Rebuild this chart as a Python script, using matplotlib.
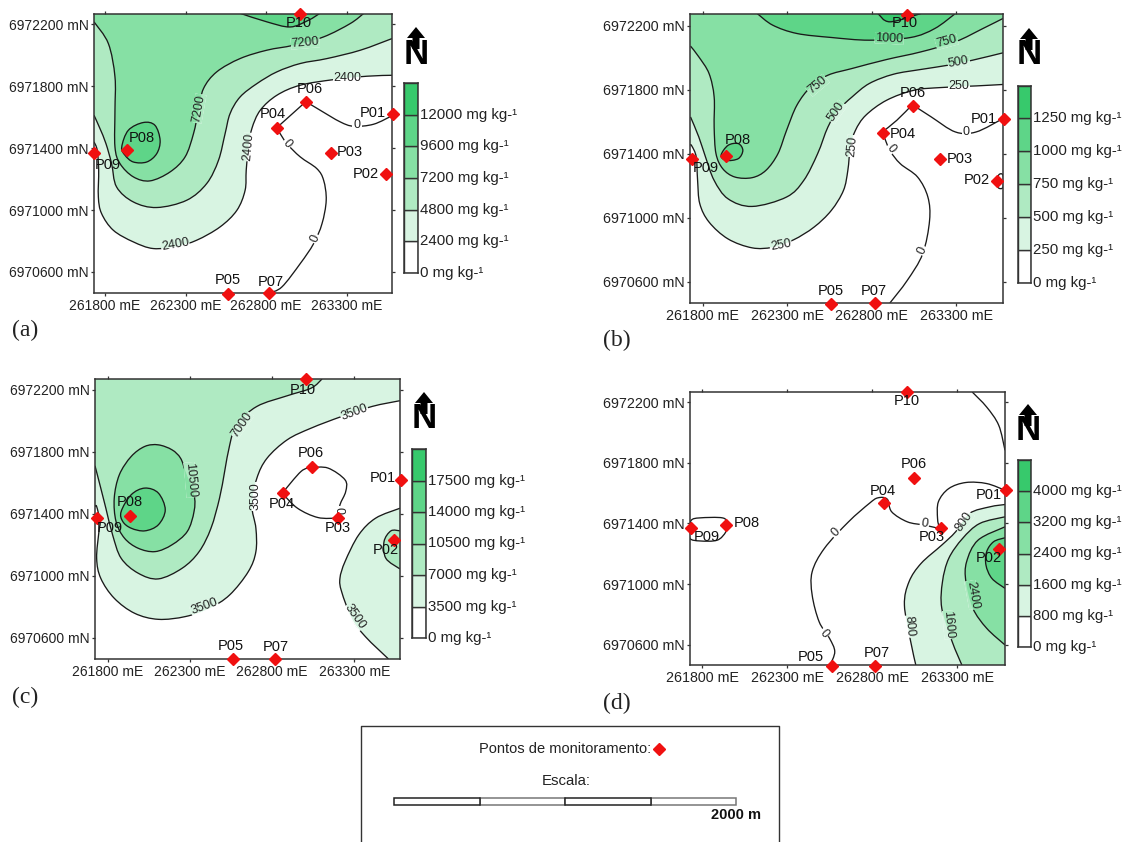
import matplotlib
matplotlib.use("Agg")
import matplotlib.pyplot as plt
import numpy as np
from matplotlib.path import Path
from matplotlib.patches import PathPatch, Polygon, Rectangle
from matplotlib.transforms import IdentityTransform

plt.rcParams['font.family'] = ['Liberation Sans', 'DejaVu Sans']

W, H = 1131, 842
E0, N0 = 261000, 6970000   # all map coordinates below are metres from this origin

BANDS = ['#ffffff', '#d8f4e2', '#afeac2', '#86e0a4', '#5ed588', '#37c96c']
LINE_COLOR = '#1a1a1a'

E_TICKS = [800, 1300, 1800, 2300]
N_TICKS = [600, 1000, 1400, 1800, 2200]

STATIONS = ['P01', 'P02', 'P03', 'P04', 'P05', 'P06', 'P07', 'P08', 'P09', 'P10']
STATION_E = [2586, 2543, 2203, 1866, 1562, 2046, 1818, 939, 734, 2007]
STATION_N = [1618, 1231, 1369, 1532, 460, 1700, 464, 1388, 1369, 2269]

# panel a
A_LEVELS = [0, 2400, 4800, 7200, 9600, 12000]
A_2400 = [(2580,1870),(2425,1864),(2218,1842),(2011,1806),(1866,1741),(1763,1644),(1711,1526),(1690,1407),(1676,1257),(1669,1127),(1618,998),(1514,891),(1369,805),(1245,766),(1100,751),(976,794),(852,869),(779,977),(759,1084),(761,1257),(752,1386),(732,1440)]
A_4800 = [(2580,2107),(2384,2032),(2177,1978),(2011,1946),(1866,1892),(1742,1816),(1638,1730),(1576,1623),(1545,1493),(1504,1321),(1431,1171),(1307,1063),(1121,1016),(976,1052),(872,1149),(841,1300),(806,1429),(769,1526),(732,1612)]
A_7200 = [(2404,2269),(2321,2204),(2156,2118),(1970,2064),(1804,2032),(1638,1978),(1493,1892),(1411,1784),(1380,1644),(1349,1493),(1297,1343),(1204,1246),(1079,1188),(976,1214),(893,1300),(862,1407),(862,1644),(862,1860),(821,2075),(732,2215)]
A_9600_TOP = [(1642,2269),(1804,2215),(1949,2182),(2063,2226),(2131,2269)]
A_9600_P08 = [(904,1407),(945,1515),(1038,1565),(1110,1547),(1142,1450),(1121,1364),(1059,1310),(976,1310),(924,1354),(904,1407)]
A_0_SOUTH = [(1818,464),(1897,503),(2011,654),(2094,783),(2146,912),(2172,1063),(2156,1192),(2114,1267),(2011,1343),(1928,1429),(1876,1511),(1866,1532)]
A_0_NORTH = [(1866,1532),(2046,1700)]
A_0_EAST = [(2046,1700),(2135,1644),(2259,1569),(2342,1541),(2466,1554),(2586,1612)]
A_LABELS = [('7200',2042,2079,5),('7200',1380,1655,80),('2400',1690,1407,85),('2400',2301,1855,0),
            ('2400',1235,777,10),('0',2363,1547,0),('0',1932,1429,-50),('0',2104,815,65)]
A_NAMES_E = [2462,2419,2321,1841,1562,2069,1829,1028,817,2001]
A_NAMES_N = [1629,1235,1375,1618,550,1780,535,1466,1289,2208]

# panel b
B_LEVELS = [0, 250, 500, 750, 1000, 1250]
B_250 = [(2578,1833),(2419,1824),(2214,1814),(2051,1797),(1888,1734),(1765,1640),(1704,1546),(1674,1442),(1659,1296),(1633,1170),(1561,1045),(1459,941),(1337,861),(1214,815),(1092,811),(949,867),(837,972),(782,1087),(769,1233),(761,1379),(735,1448),(724,1456)]
B_500 = [(2578,2031),(2398,1985),(2255,1954),(2092,1927),(1929,1897),(1786,1839),(1684,1755),(1602,1672),(1541,1567),(1480,1400),(1398,1233),(1296,1129),(1092,1070),(949,1118),(867,1233),(816,1379),(776,1505),(727,1630)]
B_750 = [(2578,2246),(2459,2183),(2296,2100),(2092,2037),(1888,1989),(1684,1933),(1541,1891),(1439,1818),(1357,1703),(1296,1546),(1245,1400),(1174,1296),(1092,1250),(990,1254),(918,1306),(878,1400),(867,1567),(867,1755),(837,1901),(776,2006),(727,2073)]
B_1000_TOP = [(1122,2277),(1214,2204),(1357,2152),(1561,2127),(1786,2110),(2031,2127),(2174,2183),(2296,2277)]
B_1250_TOP = [(1837,2277),(1908,2225),(2092,2277)]
B_1000_P08 = [(908,1390),(949,1452),(1010,1463),(1037,1421),(1010,1369),(939,1358),(908,1390)]
B_0_SOUTH = [(1908,466),(2010,606),(2102,773),(2143,982),(2133,1129),(2072,1254),(1970,1337),(1908,1421),(1863,1536)]
B_0_NORTH = [(1863,1536),(1949,1609),(2041,1707)]
B_0_EAST = [(2041,1707),(2153,1630),(2296,1536),(2419,1536),(2578,1620)]
B_0_P02 = [(2543,1231),(2555,1270),(2578,1265),(2578,1190),(2550,1187),(2543,1231)]
B_LABELS = [('1000',1904,2121,-3),('750',2245,2100,15),('500',2316,1970,10),('250',2316,1822,0),
            ('750',1480,1828,40),('500',1592,1661,55),('250',1684,1448,85),('250',1261,830,10),
            ('0',2361,1536,0),('0',1914,1431,-50),('0',2102,794,65)]
B_NAMES_E = [2463,2423,2321,1986,1557,2041,1812,1006,816,1994]
B_NAMES_N = [1619,1233,1369,1525,539,1782,539,1488,1310,2219]

# panel c
C_LEVELS = [0, 3500, 7000, 10500, 14000, 17500]
C_3500 = [(2578,2129),(2409,2092),(2223,2027),(2038,1952),(1893,1877),(1770,1758),(1708,1629),(1677,1457),(1702,1306),(1702,1155),(1656,1026),(1543,876),(1419,789),(1274,736),(1109,718),(965,757),(841,854),(759,983),(734,1112),(748,1285),(755,1349),(734,1446),(724,1446)]
C_7000 = [(2104,2269),(2038,2210),(1893,2161),(1708,2092),(1584,1974),(1543,1844),(1512,1672),(1481,1500),(1429,1306),(1357,1155),(1254,1048),(1109,979),(986,1016),(883,1112),(831,1263),(790,1435),(759,1565),(724,1709)]
C_10500 = [(1244,1758),(1274,1672),(1326,1522),(1326,1414),(1285,1285),(1192,1199),(1089,1155),(986,1177),(903,1242),(852,1349),(841,1500),(872,1651),(944,1769),(1027,1834),(1109,1844),(1192,1812),(1244,1758)]
C_14000 = [(883,1414),(944,1522),(1027,1565),(1109,1533),(1151,1425),(1109,1328),(1027,1289),(944,1306),(893,1349),(883,1414)]
C_3500_SE = [(2508,462),(2368,606),(2285,725),(2223,897),(2213,983),(2244,1091),(2327,1263),(2430,1371),(2578,1435)]
C_7000_P02 = [(2578,1289),(2523,1289),(2481,1220),(2492,1112),(2578,1043)]
C_0_NORTH = [(1862,1532),(1976,1672),(2038,1698)]
C_0_EAST = [(2038,1698),(2141,1694),(2244,1618),(2248,1543),(2213,1457),(2199,1371)]
C_0_SOUTH = [(2199,1371),(2079,1375),(1955,1435),(1862,1532)]
C_LABELS = [('7000',1615,1974,55),('3500',2300,2053,20),('10500',1305,1618,-85),('3500',1702,1511,90),
            ('3500',1388,800,20),('3500',2306,736,-55),('0',2203,1420,-90)]
C_NAMES_E = [2471,2492,2197,1858,1549,2038,1821,934,817,1990]
C_NAMES_N = [1629,1166,1306,1461,546,1791,538,1472,1310,2200]

# panel d
D_LEVELS = [0, 800, 1600, 2400, 3200, 4000]
D_800 = [(2056,468),(2026,622),(1989,863),(2016,1016),(2087,1137),(2209,1258),(2290,1345),(2372,1466),(2493,1510),(2581,1525)]
D_1600 = [(2327,468),(2270,622),(2209,841),(2213,1016),(2250,1170),(2331,1301),(2432,1400),(2581,1444)]
D_2400 = [(2581,600),(2473,710),(2392,841),(2351,1016),(2355,1148),(2422,1290),(2581,1378)]
D_3200 = [(2581,973),(2504,1038),(2469,1126),(2473,1214),(2514,1280),(2581,1306)]
D_0_MAIN = [(1552,468),(1579,556),(1548,644),(1487,753),(1446,929),(1446,1082),(1518,1236),(1660,1411),(1782,1532),(1833,1569),(1888,1560),(1914,1477),(2006,1411),(2107,1389),(2195,1367)]
D_0_EAST = [(2195,1367),(2184,1433),(2189,1543),(2250,1630),(2351,1670),(2473,1663),(2581,1619)]
D_0_NE = [(2388,2266),(2473,2167),(2544,2047),(2581,1882)]
D_0_WEST = [(727,1367),(735,1422),(786,1437),(918,1437),(948,1400),(938,1345),(887,1290),(786,1285),(727,1301),(727,1367)]
D_LABELS = [('800',2341,1411,55),('800',2016,721,-85),('1600',2250,732,-85),('2400',2388,929,-80),
            ('0',1583,1341,45),('0',1518,677,-50),('0',2107,1396,-10)]
D_NAMES_E = [2487,2483,2148,1863,1440,2042,1827,1060,828,2005]
D_NAMES_N = [1586,1170,1312,1615,523,1790,545,1404,1312,2205]

SCALE_SEGMENTS = [0, 500, 1000, 1500, 2000]


def px_axes(fig, left, top, right, bottom):
    return fig.add_axes([left / W, 1 - bottom / H, (right - left) / W, (bottom - top) / H])


def smooth(points):
    # catmull-rom through the read points, handed to matplotlib as beziers
    p = np.array(points, dtype=float)
    closed = len(p) > 3 and np.all(p[0] == p[-1])
    n = len(p)
    verts, codes = [tuple(p[0])], [Path.MOVETO]
    if n == 2:
        return [tuple(p[0]), tuple(p[1])], [Path.MOVETO, Path.LINETO]
    for i in range(n - 1):
        if closed:
            p0, p3 = p[(i - 1) % (n - 1)], p[(i + 2) % (n - 1)]
        else:
            p0, p3 = p[max(i - 1, 0)], p[min(i + 2, n - 1)]
        c1 = p[i] + (p[i + 1] - p0) / 6
        c2 = p[i + 1] - (p3 - p[i]) / 6
        verts += [tuple(c1), tuple(c2), tuple(p[i + 1])]
        codes += [Path.CURVE4] * 3
    return verts, codes


def label_gap(ax, text, e, n, rot):
    # rotated box round a contour label, in display pixels
    cx, cy = ax.transData.transform((e, n))
    hw, hh = 3.2 * len(text) + 1.5, 5.5
    t = np.radians(rot)
    box = [(-hw, -hh), (hw, -hh), (hw, hh), (-hw, hh)]
    pts = [(cx + x * np.cos(t) - y * np.sin(t), cy + x * np.sin(t) + y * np.cos(t)) for x, y in box]
    return Polygon(pts, closed=True, transform=IdentityTransform())


def draw_panel(fig, box, xlim, ylim, fills, lines, labels, names_e, names_n, legend_box, levels, tick_fs=10):
    ax = px_axes(fig, *box)
    ax.set_xlim(xlim)
    ax.set_ylim(ylim)
    corners = {'NW': (xlim[0], ylim[1]), 'NE': (xlim[1], ylim[1]),
               'SE': (xlim[1], ylim[0]), 'SW': (xlim[0], ylim[0])}

    fill_paths = []
    for line, band, closing in fills:
        verts, codes = smooth(line)
        for c in closing:
            verts.append(corners[c])
            codes.append(Path.LINETO)
        verts.append(verts[0])
        codes.append(Path.CLOSEPOLY)
        fill_paths.append((Path(verts, codes), BANDS[band]))

    for i, (path, color) in enumerate(fill_paths):
        ax.add_patch(PathPatch(path, facecolor=color, edgecolor='none', zorder=1 + i * 0.01))

    for line in [f[0] for f in fills] + lines:
        verts, codes = smooth(line)
        ax.add_patch(PathPatch(Path(verts, codes), facecolor='none', edgecolor=LINE_COLOR, lw=0.95, zorder=2))

    # labels break their line: repaint the fills inside a small box over it
    whole = Path([(xlim[0], ylim[0]), (xlim[1], ylim[0]), (xlim[1], ylim[1]), (xlim[0], ylim[1]), (xlim[0], ylim[0])])
    for text, e, n, rot in labels:
        gap = label_gap(ax, text, e, n, rot)
        for j, (path, color) in enumerate([(whole, 'white')] + fill_paths):
            patch = PathPatch(path, facecolor=color, edgecolor='none', zorder=2.1 + j * 0.01)
            patch.set_clip_path(gap)
            ax.add_patch(patch)
        ax.text(e, n, text, rotation=rot, rotation_mode='anchor', ha='center', va='center', fontsize=9,
                color='#222222', zorder=3)

    ax.plot(STATION_E, STATION_N, linestyle='none', marker='D', ms=6.2, color='#f01010', mec='#f01010',
            clip_on=False, zorder=6)
    for name, e, n in zip(STATIONS, names_e, names_n):
        ax.text(e, n, name, ha='center', va='center', fontsize=10.5, color='#111111', zorder=7)

    ax.set_xticks(E_TICKS)
    ax.set_xticklabels([f'{E0 + v} mE' for v in E_TICKS], fontsize=tick_fs, color='#222222')
    ax.set_yticks(N_TICKS)
    ax.set_yticklabels([f'{N0 + v} mN' for v in N_TICKS], fontsize=tick_fs, color='#222222')
    ax.tick_params(top=True, right=True, direction='out', length=2.5, width=0.9, pad=1.5, color='#333333')
    for s in ax.spines.values():
        s.set_linewidth(1.1)
        s.set_color('#333333')
        s.set_zorder(5)

    # colour legend
    lg = px_axes(fig, *legend_box)
    for i, band in enumerate(BANDS):
        lg.bar(0, 1, bottom=i, width=1, color=band, edgecolor='#333333', linewidth=1.0)
    lg.set_xlim(-0.5, 0.5)
    lg.set_ylim(0, 6)
    lg.set_xticks([])
    lg.set_yticks([])
    for s in lg.spines.values():
        s.set_linewidth(1.1)
        s.set_color('#333333')
    for i, lvl in enumerate(levels):
        lg.text(1.15, i, f'{lvl} mg kg-\u00b9', transform=lg.get_yaxis_transform(), ha='left', va='center',
                fontsize=10.8, color='#222222', clip_on=False)
    return ax


def north_arrow(ov, x, y):
    ov.text(x, y + 27, 'N', ha='center', va='center', fontsize=25, fontweight='bold', color='black')
    ov.add_patch(Polygon([(x, y), (x + 9, y + 11), (x + 3.5, y + 11), (x + 3.5, y + 22), (x - 3.5, y + 22),
                          (x - 3.5, y + 11), (x - 9, y + 11)], closed=True, color='black', lw=0))


fig = plt.figure(figsize=(W / 100, H / 100), dpi=100, facecolor='white')

draw_panel(fig, (94, 13.5, 392, 293), (732, 2580), (464, 2269),
           [(A_2400, 1, ['NW', 'NE']), (A_4800, 2, ['NW', 'NE']), (A_7200, 3, ['NW']),
            (A_9600_TOP, 4, []), (A_9600_P08, 4, [])],
           [A_0_SOUTH, A_0_NORTH, A_0_EAST], A_LABELS, A_NAMES_E, A_NAMES_N, (404, 83, 418, 273), A_LEVELS)

draw_panel(fig, (690, 13.5, 1003, 303), (724, 2578), (466, 2277),
           [(B_250, 1, ['NW', 'NE']), (B_500, 2, ['NW', 'NE']), (B_750, 3, ['NW', 'NE']),
            (B_1000_TOP, 4, []), (B_1250_TOP, 5, []), (B_1000_P08, 4, [])],
           [B_0_SOUTH, B_0_NORTH, B_0_EAST, B_0_P02], B_LABELS, B_NAMES_E, B_NAMES_N, (1018, 85.5, 1031, 283), B_LEVELS,
           tick_fs=10.3)

draw_panel(fig, (95, 379, 400, 659), (724, 2578), (462, 2269),
           [(C_3500, 1, ['NW', 'NE']), (C_7000, 2, ['NW']), (C_10500, 3, []), (C_14000, 4, []),
            (C_3500_SE, 1, ['SE']), (C_7000_P02, 2, [])],
           [C_0_NORTH, C_0_EAST, C_0_SOUTH], C_LABELS, C_NAMES_E, C_NAMES_N, (412, 449, 426, 638), C_LEVELS)

draw_panel(fig, (690, 392, 1005, 665), (727, 2581), (468, 2266),
           [(D_800, 1, ['SE']), (D_1600, 2, ['SE']), (D_2400, 3, []), (D_3200, 4, [])],
           [D_0_MAIN, D_0_EAST, D_0_NE, D_0_WEST], D_LABELS, D_NAMES_E, D_NAMES_N, (1017.5, 460, 1031, 647), D_LEVELS,
           tick_fs=10.3)

# everything that isn't map: drawn on a full-figure pixel overlay
ov = fig.add_axes([0, 0, 1, 1], facecolor='none')
ov.set_xlim(0, W)
ov.set_ylim(H, 0)
ov.axis('off')

for x, y in [(416, 27), (1029, 28), (424, 392), (1028, 404)]:
    north_arrow(ov, x, y)

for text, x, y in [('(a)', 25, 330), ('(b)', 617, 340), ('(c)', 25, 697), ('(d)', 617, 703)]:
    ov.text(x, y, text, family='Liberation Serif', fontsize=17, ha='center', va='center', color='#222222')

ov.plot([361, 361, 779, 779], [842, 726, 726, 842], color='#333333', lw=1.0, clip_on=False)
ov.text(565, 749, 'Pontos de monitoramento:', fontsize=10.5, ha='center', va='center', color='#222222')
ov.plot([659], [749], marker='D', ms=6.2, color='#f01010', linestyle='none')
ov.text(566, 781, 'Escala:', fontsize=10.8, ha='center', va='center', color='#222222')

bar_left, bar_right = 394, 736
per_m = (bar_right - bar_left) / SCALE_SEGMENTS[-1]
for i, (a, b) in enumerate(zip(SCALE_SEGMENTS[:-1], SCALE_SEGMENTS[1:])):
    ov.add_patch(Rectangle((bar_left + a * per_m, 798), (b - a) * per_m, 7, facecolor='white',
                           edgecolor='#222222' if i % 2 == 0 else '#777777', lw=1.1, zorder=3 - i % 2))
ov.text(736, 815, '2000 m', fontsize=10.5, fontweight='bold', ha='center', va='center', color='#111111')

fig.savefig('out.png', dpi=100)
